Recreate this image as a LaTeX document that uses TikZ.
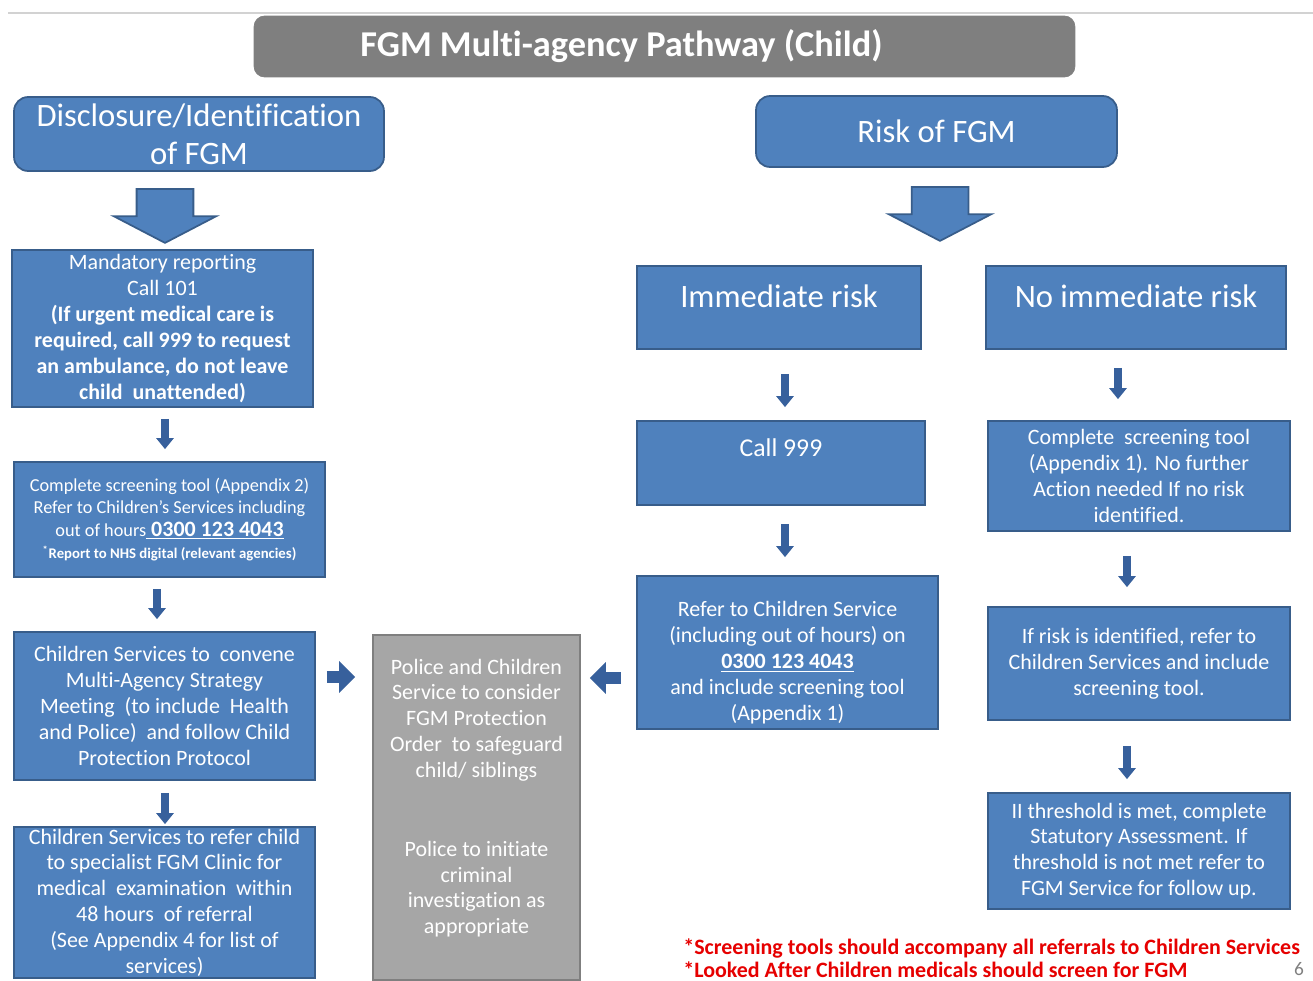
\documentclass[tikz,border=0pt]{standalone}
\usepackage{fontspec}
\setmainfont{Carlito}[Ligatures=NoCommon]
\usetikzlibrary{shapes.arrows,arrows.meta}

\definecolor{boxblue}{RGB}{79,129,189}
\definecolor{boxline}{RGB}{56,93,138}
\definecolor{arrblue}{RGB}{55,96,156}
\definecolor{titlegray}{RGB}{127,127,127}
\definecolor{boxgray}{RGB}{166,166,166}
\definecolor{notered}{RGB}{230,0,0}

\tikzset{
  blk/.style={draw=boxline, fill=boxblue, text=white, align=center,
    line width=1pt, inner sep=2pt, font=\fontsize{12.5}{14.7}\selectfont},
  bigtxt/.style={font=\fontsize{18.6}{21.5}\selectfont},
  bigarr/.style={single arrow, draw=boxline, fill=boxblue, line width=1pt,
    rotate=-90, inner sep=0pt, text height=0.55cm, text depth=0.55cm,
    minimum height=1.08cm, minimum width=2.04cm,
    single arrow head extend=0.46cm, single arrow tip angle=125},
  dnarr/.style={draw=arrblue, line width=4pt,
    -{Triangle[width=0.34cm,length=0.22cm]}},
  sidearr/.style={draw=arrblue, line width=7pt,
    -{Triangle[width=0.62cm,length=0.32cm]}}
}

\begin{document}
\begin{tikzpicture}[x=0.02cm, y=-0.02cm]
  \useasboundingbox (0,0) rectangle (1313,981);
  \draw[gray!35, line width=0.8pt] (8,13) -- (1313,13);

  % title
  \node[draw=titlegray, fill=titlegray, rounded corners=6pt, text=white,
    minimum width=16.42cm, minimum height=1.22cm,
    font=\fontsize{20.7}{24}\selectfont\bfseries] (title) at (664.5,46.5)
    {FGM Multi-agency Pathway (Child)\hspace*{1.72cm}};

  % left column
  \node[blk, bigtxt, rounded corners=8pt, minimum width=7.4cm, minimum height=1.48cm]
    (disc) at (199,134) {Disclosure/Identification\\of FGM};
  \node[bigarr] (arrA) at (165,208.5) {};
  \node[blk, minimum width=6.02cm, minimum height=3.14cm] (mand) at (162.5,328.5)
    {Mandatory reporting\\Call 101\\\textbf{(If urgent medical care is}\\
     \textbf{required, call 999 to request}\\\textbf{an ambulance, do not leave}\\
     \textbf{child\ \ unattended)}};
  \node[blk, minimum width=6.22cm, minimum height=2.3cm,
    font=\fontsize{10.4}{12.8}\selectfont] (scr) at (169.5,519.5)
    {Complete screening tool (Appendix 2)\\Refer to Children's Services including\\
     out of hours\underline{\fontsize{12.5}{12.8}\selectfont\textbf{\ 0300 123 4043}}\\
     {\fontsize{8.4}{10}\selectfont\textbf{\textsuperscript{*}Report to NHS digital (relevant agencies)}}};
  \node[blk, minimum width=6.02cm, minimum height=2.96cm] (conv) at (164.5,706)
    {Children Services to\ \ convene\\Multi-Agency Strategy\\Meeting\ \ (to include\ \ Health\\
     and Police)\ \ and follow Child\\Protection Protocol};
  \node[blk, minimum width=6.02cm, minimum height=3.02cm, inner ysep=0pt] (clinic) at (164.5,902.5)
    {Children Services to refer child\\to specialist FGM Clinic for\\
     medical\ \ examination\ \ within\\48 hours\ \ of referral\\
     (See Appendix 4 for list of\\services)};

  % middle
  \node[draw=titlegray, fill=boxgray, text=white, align=center, line width=1pt,
    minimum width=4.14cm, minimum height=6.9cm, text depth=0.45cm,
    font=\fontsize{12.5}{14.7}\selectfont] (police) at (476.5,807.5)
    {Police and Children\\Service to consider\\FGM Protection\\Order\ \ to safeguard\\
     child/ siblings\\[1.06cm]Police to initiate\\criminal\\investigation as\\appropriate};

  % right side
  \node[blk, bigtxt, rounded corners=8pt, minimum width=7.22cm, minimum height=1.42cm]
    (risk) at (936.5,131.5) {Risk of FGM};
  \node[bigarr] (arrB) at (940,206.5) {};
  \node[blk, bigtxt, minimum width=5.68cm, minimum height=1.66cm, text depth=0.45cm]
    (imm) at (779,307.5) {Immediate risk};
  \node[blk, bigtxt, minimum width=6.0cm, minimum height=1.66cm, text depth=0.45cm]
    (noimm) at (1136,307.5) {No immediate risk};
  \node[blk, minimum width=5.76cm, minimum height=1.68cm, text depth=0.6cm,
    font=\fontsize{14.6}{16}\selectfont] (call) at (781,463) {Call 999};
  \node[blk, minimum width=6.02cm, minimum height=3.06cm] (refer) at (787.5,652.5)
    {\mbox{}\\[5.6pt]Refer to Children Service\\(including out of hours) on\\
     \underline{\textbf{0300 123 4043}}\\and include screening tool\\(Appendix 1)};
  \node[blk, minimum width=6.04cm, minimum height=2.2cm] (scrB) at (1139,476)
    {Complete\ \ screening tool\\(Appendix 1). No further\\Action needed If no risk\\identified.};
  \node[blk, minimum width=6.04cm, minimum height=2.26cm] (ifrisk) at (1139,663.5)
    {If risk is identified, refer to\\Children Services and include\\screening tool.};
  \node[blk, minimum width=6.04cm, minimum height=2.32cm] (thresh) at (1139,851)
    {II threshold is met, complete\\Statutory Assessment. If\\
     threshold is not met refer to\\FGM Service for follow up.};

  % notes
  \node[anchor=north west, align=left, text=notered, inner sep=0pt,
    font=\fontsize{12.5}{13.6}\selectfont\bfseries] (notes) at (683,938)
    {*Screening tools should accompany all referrals to Children Services\\
     *Looked After Children medicals should screen for FGM};
  \node[text=gray, font=\fontsize{11}{13}\selectfont, inner sep=0pt] (pgno) at (1299,969) {6};

  % connectors
  \draw[dnarr, shorten <=0.22cm, shorten >=0.24cm]
    ([xshift=0.05cm]mand.south) -- ([xshift=0.05cm]mand.south |- scr.north);
  \draw[dnarr, shorten <=0.22cm, shorten >=0.24cm]
    ([xshift=-0.25cm]scr.south) -- ([xshift=-0.25cm]scr.south |- conv.north);
  \draw[dnarr, shorten <=0.24cm, shorten >=0.04cm]
    ([xshift=0.01cm]conv.south) -- ([xshift=0.01cm]conv.south |- clinic.north);
  \draw[dnarr, shorten <=0.48cm, shorten >=0.26cm]
    ([xshift=0.12cm]imm.south) -- ([xshift=0.12cm]imm.south |- call.north);
  \draw[dnarr, shorten <=0.36cm, shorten >=0.36cm]
    ([xshift=0.08cm]call.south) -- ([xshift=0.08cm]call.south |- refer.north);
  \draw[dnarr, shorten <=0.36cm, shorten >=0.42cm]
    ([xshift=-0.36cm]noimm.south) -- ([xshift=-0.36cm]noimm.south |- scrB.north);
  \draw[dnarr, shorten <=0.48cm, shorten >=0.38cm]
    ([xshift=-0.24cm]scrB.south) -- ([xshift=-0.24cm]scrB.south |- ifrisk.north);
  \draw[dnarr, shorten <=0.5cm, shorten >=0.26cm]
    ([xshift=-0.24cm]ifrisk.south) -- ([xshift=-0.24cm]ifrisk.south |- thresh.north);
  \draw[sidearr, shorten <=0.22cm, shorten >=0.34cm]
    ([yshift=0.58cm]conv.east) -- ([yshift=0.58cm]conv.east -| police.west);
  \draw[sidearr, shorten <=0.3cm, shorten >=0.18cm]
    ([yshift=-0.51cm]refer.west) -- ([yshift=-0.51cm]refer.west -| police.east);
\end{tikzpicture}
\end{document}
